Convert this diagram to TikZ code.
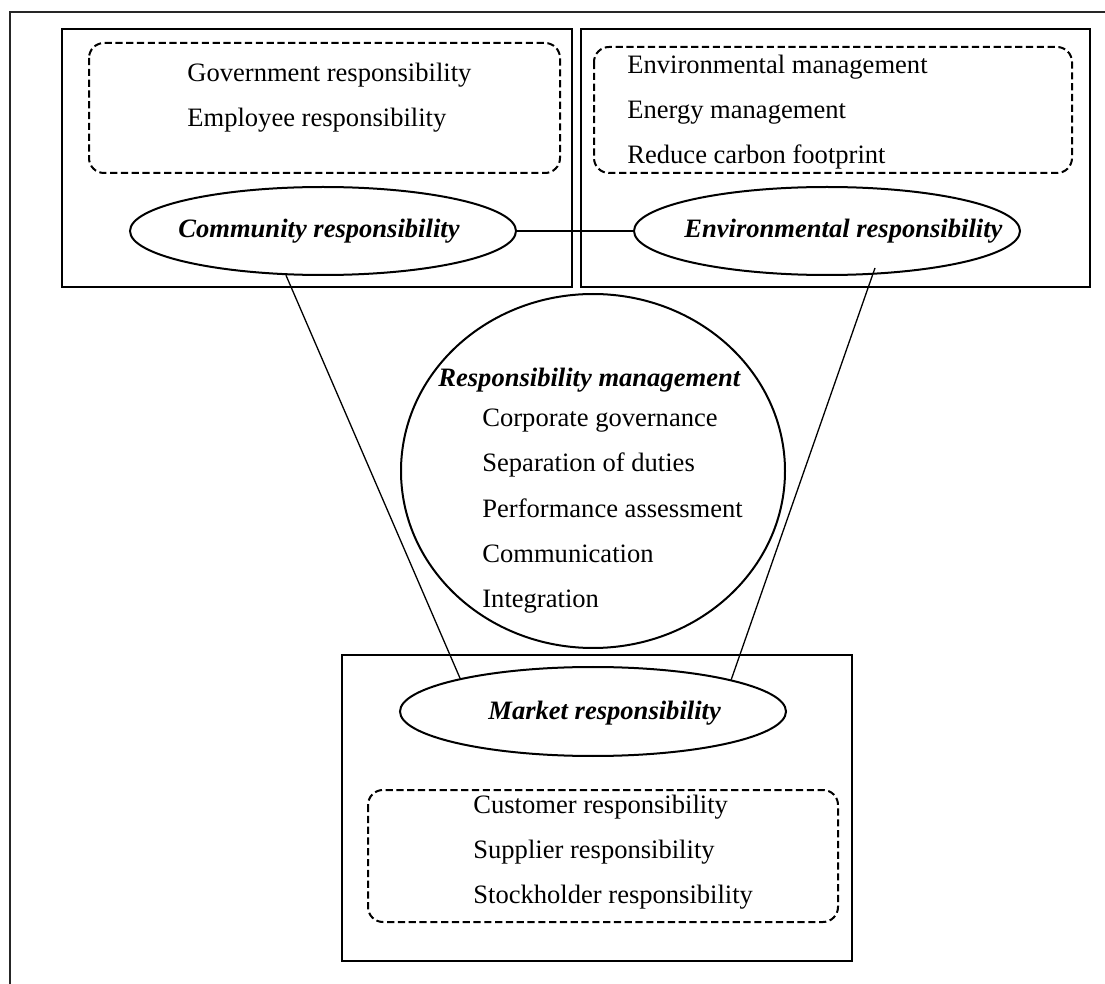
\documentclass[tikz,border=0pt]{standalone}
\usepackage{fontspec}
\setmainfont{Liberation Serif}
\usetikzlibrary{shapes.geometric}
\begin{document}
\begin{tikzpicture}[x=0.5pt,y=-0.5pt]
\tikzset{
  box/.style={draw, line width=0.65pt},
  dbox/.style={draw, line width=1pt, dash pattern=on 3.6pt off 1.8pt, rounded corners=7.5pt},
  ell/.style={draw, ellipse, line width=1pt, inner sep=0pt},
  txt/.style={anchor=base west, inner sep=0pt, font=\fontsize{13.28}{16}\selectfont},
  btxt/.style={anchor=base west, inner sep=0pt, font=\fontsize{13.28}{16}\selectfont\bfseries\itshape},
  conn/.style={line width=0.65pt},
  frame/.style={draw=black!85, line width=1pt}
}
\useasboundingbox (0,0) rectangle (1105,984);
% outer frame (only left and top edges visible)
\draw[frame] (10,984) -- (10,12) -- (1105,12);

% containers
\draw[box] (62,29) rectangle (572,287);
\draw[box] (581,29) rectangle (1090,287);
\draw[box] (342,655) rectangle (852,961);

% dashed groups
\draw[dbox] (89,43) rectangle (560,173);
\draw[dbox] (594,47) rectangle (1072,173);
\draw[dbox] (368,790) rectangle (838,922);

% list texts
\node[txt] (gov) at (187,82) {Government responsibility};
\node[txt] (emp) at (187,127) {Employee responsibility};
\node[txt] (envm) at (627,74) {Environmental management};
\node[txt] (enem) at (627,119) {Energy management};
\node[txt] (carb) at (627,164) {Reduce carbon footprint};
\node[txt] (cust) at (473,813) {Customer responsibility};
\node[txt] (supp) at (473,858) {Supplier responsibility};
\node[txt] (stock) at (473,903) {Stockholder responsibility};

% ellipses
\node[ell, minimum width=193pt, minimum height=44pt] (comm) at (323,231) {};
\node[ell, minimum width=193pt, minimum height=44pt] (env) at (827,231) {};
\node[ell, minimum width=193pt, minimum height=44.5pt] (mkt) at (593,711.5) {};
\node[ell, minimum width=192pt, minimum height=177pt] (rm) at (593,471) {};

\node[btxt] (commlbl) at (178,238) {Community responsibility};
\node[btxt] (envlbl) at (684,238) {Environmental responsibility};
\node[btxt] (mktlbl) at (488,719) {Market responsibility};

% responsibility management content
\node[btxt] (rmlbl) at (438,387) {Responsibility management};
\node[txt] (cg) at (482,427) {Corporate governance};
\node[txt] (sd) at (482,472) {Separation of duties};
\node[txt] (pa) at (482,518) {Performance assessment};
\node[txt] (cm) at (482,563) {Communication};
\node[txt] (ig) at (482,608) {Integration};

% connectors
\coordinate (envfoot) at (875,268);
\draw[conn] (comm) -- (env);
\draw[conn] (comm.230) -- (mkt.166.6);
\draw[conn] (envfoot) -- (mkt.13.4);
\end{tikzpicture}
\end{document}
